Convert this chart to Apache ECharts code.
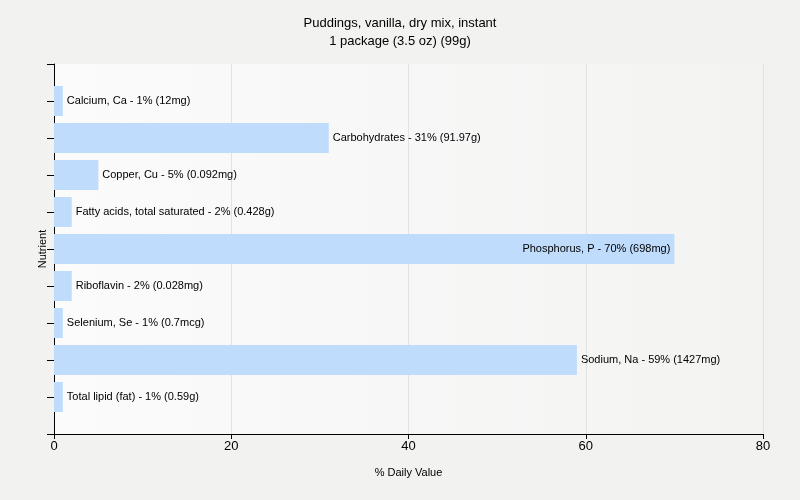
<!DOCTYPE html>
<html><head><meta charset="utf-8">
<script src="https://cdn.jsdelivr.net/npm/echarts@6/dist/echarts.min.js"></script>
<style>html,body{margin:0;padding:0;background:#f2f2f0;}#c{width:800px;height:500px;}</style>
</head><body><div id="c"></div>
<script>
const categories = ["Calcium, Ca","Carbohydrates","Copper, Cu","Fatty acids, total saturated","Phosphorus, P","Riboflavin","Selenium, Se","Sodium, Na","Total lipid (fat)"];
const values = [1,31,5,2,70,2,1,59,1];
const amounts = ["12mg","91.97g","0.092mg","0.428g","698mg","0.028mg","0.7mcg","1427mg","0.59g"];
const xTicks = [0,20,40,60,80];

const font = '"Liberation Sans", Arial, sans-serif';
const yCats = [''].concat(categories, ['']);
const data = [null].concat(values.map((v,i)=>({
  value:v,
  label: v>60 ? {position:'insideRight', distance:4} : {position:'right', distance:4}
})), [null]);
const chart = echarts.init(document.getElementById('c'));
chart.setOption({
  backgroundColor:'#f2f2f0',
  animation:false,
  title:{text:'Puddings, vanilla, dry mix, instant\n1 package (3.5 oz) (99g)', left:'center', top:9,
    textStyle:{fontFamily:font,fontSize:13,fontWeight:'normal',color:'#000',lineHeight:18}},
  grid:{left:54,right:37,top:64,bottom:66,show:true,borderWidth:0,
    backgroundColor:{type:'linear',x:0,y:0,x2:1,y2:0,colorStops:[{offset:0,color:'#fbfbfb'},{offset:1,color:'#f3f3f2'}]}},
  xAxis:{type:'value',min:0,max:80,interval:20,
    name:'% Daily Value',nameLocation:'middle',nameGap:33,
    nameTextStyle:{fontFamily:font,fontSize:11,color:'#000'},
    axisLine:{show:true,onZero:false,lineStyle:{color:'#000'}},
    axisTick:{show:true,length:5,lineStyle:{color:'#000'}},
    axisLabel:{fontFamily:font,fontSize:13,color:'#000',margin:6,
      formatter:v=>xTicks.includes(v)?String(v):''},
    splitLine:{show:true,lineStyle:{color:'#e2e2e2'}}},
  yAxis:{type:'category',inverse:true,data:yCats,boundaryGap:false,
    name:'Nutrient',nameLocation:'middle',nameGap:6,
    nameTextStyle:{fontFamily:font,fontSize:11,color:'#000'},
    axisLine:{show:true,lineStyle:{color:'#000'}},
    axisTick:{show:true,length:7,interval:0,lineStyle:{color:'#000'}},
    axisLabel:{show:false},
    splitLine:{show:false}},
  series:[{type:'bar',data:data,barWidth:30,
    itemStyle:{color:'#bfdcfc'},
    label:{show:true,fontFamily:font,fontSize:11,color:'#000',
      formatter:p=>{const i=p.dataIndex-1;return categories[i]+' - '+values[i]+'% ('+amounts[i]+')';}}}]
});
</script></body></html>
